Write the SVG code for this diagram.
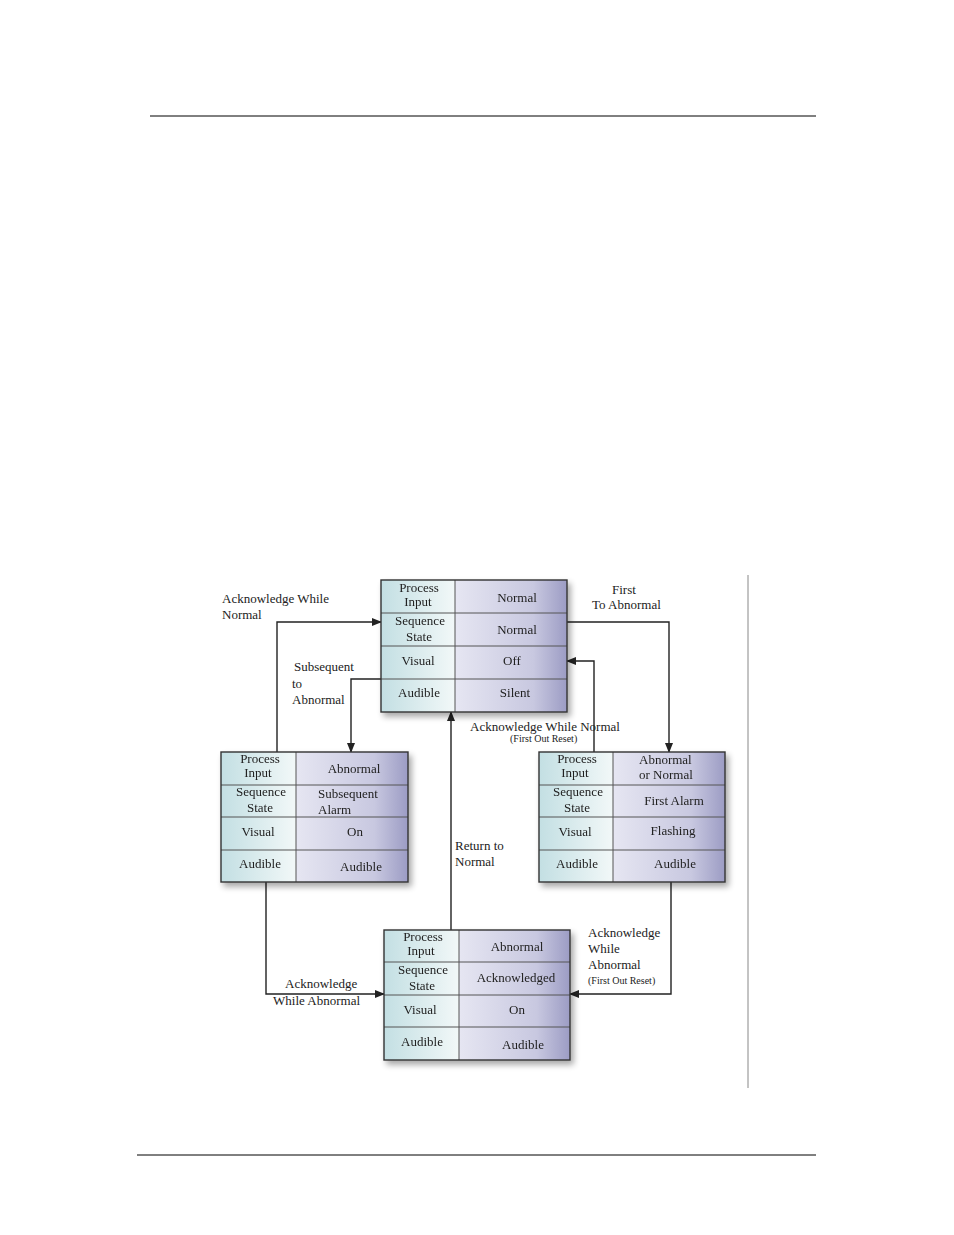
<svg xmlns="http://www.w3.org/2000/svg" width="954" height="1235" viewBox="0 0 954 1235">
<defs>
<linearGradient id="gl" x1="0" x2="1" y1="0" y2="0"><stop offset="0" stop-color="#c3dfe3"/><stop offset="1" stop-color="#f2f8f8"/></linearGradient>
<linearGradient id="gr" x1="0" x2="1" y1="0" y2="0"><stop offset="0" stop-color="#e6e6f2"/><stop offset="0.7" stop-color="#c8c8e0"/><stop offset="1" stop-color="#9c9cc4"/></linearGradient>
<filter id="sh" x="-10%" y="-10%" width="125%" height="130%"><feGaussianBlur in="SourceAlpha" stdDeviation="3"/><feOffset dx="3" dy="4"/><feComponentTransfer><feFuncA type="linear" slope="0.35"/></feComponentTransfer><feMerge><feMergeNode/><feMergeNode in="SourceGraphic"/></feMerge></filter>
<marker id="ar" markerWidth="10" markerHeight="8" refX="9" refY="4" orient="auto" markerUnits="userSpaceOnUse"><path d="M0,0 L10,4 L0,8 Z" fill="#222"/></marker>
</defs>
<style>
text{font-family:"Liberation Serif",serif;font-size:13px;fill:#222}
.c{text-anchor:middle}
.s{font-size:10px}
.ln{fill:none;stroke:#333;stroke-width:1.4}
.cn{fill:none;stroke:#222;stroke-width:1.4;marker-end:url(#ar)}
.g{stroke:#555;stroke-width:1}
</style>
<line x1="150" y1="116" x2="816" y2="116" stroke="#000"/>
<line x1="137" y1="1155" x2="816" y2="1155" stroke="#000"/>
<line x1="748" y1="575" x2="748" y2="1088" stroke="#888"/>

<g id="connectors">
<polyline class="cn" points="277,752 277,622 381,622"/>
<polyline class="cn" points="381,679 351,679 351,752"/>
<polyline class="cn" points="567,622 669,622 669,752"/>
<polyline class="cn" points="594,752 594,661 567,661"/>
<polyline class="cn" points="451,930 451,712"/>
<polyline class="cn" points="266,882 266,994 384,994"/>
<polyline class="cn" points="671,882 671,994 570,994"/>
<text x="222" y="603">Acknowledge While</text><text x="222" y="619">Normal</text>
<text x="294" y="671">Subsequent</text><text x="292" y="688">to</text><text x="292" y="704">Abnormal</text>
<text x="612" y="594">First</text><text x="592" y="609">To Abnormal</text>
<text x="470" y="731">Acknowledge While Normal</text><text x="510" y="742" class="s">(First Out Reset)</text>
<text x="455" y="850">Return to</text><text x="455" y="866">Normal</text>
<text x="285" y="988">Acknowledge</text><text x="273" y="1005">While Abnormal</text>
<text x="588" y="937">Acknowledge</text><text x="588" y="953">While</text><text x="588" y="969">Abnormal</text><text x="588" y="984" class="s">(First Out Reset)</text>
</g>

<g id="node-top" filter="url(#sh)">
<rect x="381" y="580" width="74" height="132" fill="url(#gl)"/><rect x="455" y="580" width="112" height="132" fill="url(#gr)"/>
<line class="g" x1="381" y1="613" x2="567" y2="613"/><line class="g" x1="381" y1="646" x2="567" y2="646"/><line class="g" x1="381" y1="679" x2="567" y2="679"/>
<line class="g" x1="455" y1="580" x2="455" y2="712"/>
<rect class="ln" x="381" y="580" width="186" height="132"/>
<text class="c" x="419" y="592">Process</text><text class="c" x="418" y="606">Input</text><text class="c" x="517" y="602">Normal</text>
<text class="c" x="420" y="625">Sequence</text><text class="c" x="419" y="641">State</text><text class="c" x="517" y="634">Normal</text>
<text class="c" x="418" y="665">Visual</text><text class="c" x="512" y="665">Off</text>
<text class="c" x="419" y="697">Audible</text><text class="c" x="515" y="697">Silent</text>
</g>

<g id="node-left" filter="url(#sh)">
<rect x="221" y="752" width="75" height="130" fill="url(#gl)"/><rect x="296" y="752" width="112" height="130" fill="url(#gr)"/>
<line class="g" x1="221" y1="785" x2="408" y2="785"/><line class="g" x1="221" y1="817" x2="408" y2="817"/><line class="g" x1="221" y1="850" x2="408" y2="850"/>
<line class="g" x1="296" y1="752" x2="296" y2="882"/>
<rect class="ln" x="221" y="752" width="187" height="130"/>
<text class="c" x="260" y="763">Process</text><text class="c" x="258" y="777">Input</text><text class="c" x="354" y="773">Abnormal</text>
<text class="c" x="261" y="796">Sequence</text><text class="c" x="260" y="812">State</text><text x="318" y="798">Subsequent</text><text x="318" y="814">Alarm</text>
<text class="c" x="258" y="836">Visual</text><text class="c" x="355" y="836">On</text>
<text class="c" x="260" y="868">Audible</text><text class="c" x="361" y="871">Audible</text>
</g>

<g id="node-right" filter="url(#sh)">
<rect x="539" y="752" width="74" height="130" fill="url(#gl)"/><rect x="613" y="752" width="112" height="130" fill="url(#gr)"/>
<line class="g" x1="539" y1="785" x2="725" y2="785"/><line class="g" x1="539" y1="817" x2="725" y2="817"/><line class="g" x1="539" y1="850" x2="725" y2="850"/>
<line class="g" x1="613" y1="752" x2="613" y2="882"/>
<rect class="ln" x="539" y="752" width="186" height="130"/>
<text class="c" x="577" y="763">Process</text><text class="c" x="575" y="777">Input</text><text x="639" y="764">Abnormal</text><text x="639" y="779">or Normal</text>
<text class="c" x="578" y="796">Sequence</text><text class="c" x="577" y="812">State</text><text class="c" x="674" y="805">First Alarm</text>
<text class="c" x="575" y="836">Visual</text><text class="c" x="673" y="835">Flashing</text>
<text class="c" x="577" y="868">Audible</text><text class="c" x="675" y="868">Audible</text>
</g>

<g id="node-bottom" filter="url(#sh)">
<rect x="384" y="930" width="75" height="130" fill="url(#gl)"/><rect x="459" y="930" width="111" height="130" fill="url(#gr)"/>
<line class="g" x1="384" y1="962" x2="570" y2="962"/><line class="g" x1="384" y1="995" x2="570" y2="995"/><line class="g" x1="384" y1="1027" x2="570" y2="1027"/>
<line class="g" x1="459" y1="930" x2="459" y2="1060"/>
<rect class="ln" x="384" y="930" width="186" height="130"/>
<text class="c" x="423" y="941">Process</text><text class="c" x="421" y="955">Input</text><text class="c" x="517" y="951">Abnormal</text>
<text class="c" x="423" y="974">Sequence</text><text class="c" x="422" y="990">State</text><text class="c" x="516" y="982">Acknowledged</text>
<text class="c" x="420" y="1014">Visual</text><text class="c" x="517" y="1014">On</text>
<text class="c" x="422" y="1046">Audible</text><text class="c" x="523" y="1049">Audible</text>
</g>
</svg>
